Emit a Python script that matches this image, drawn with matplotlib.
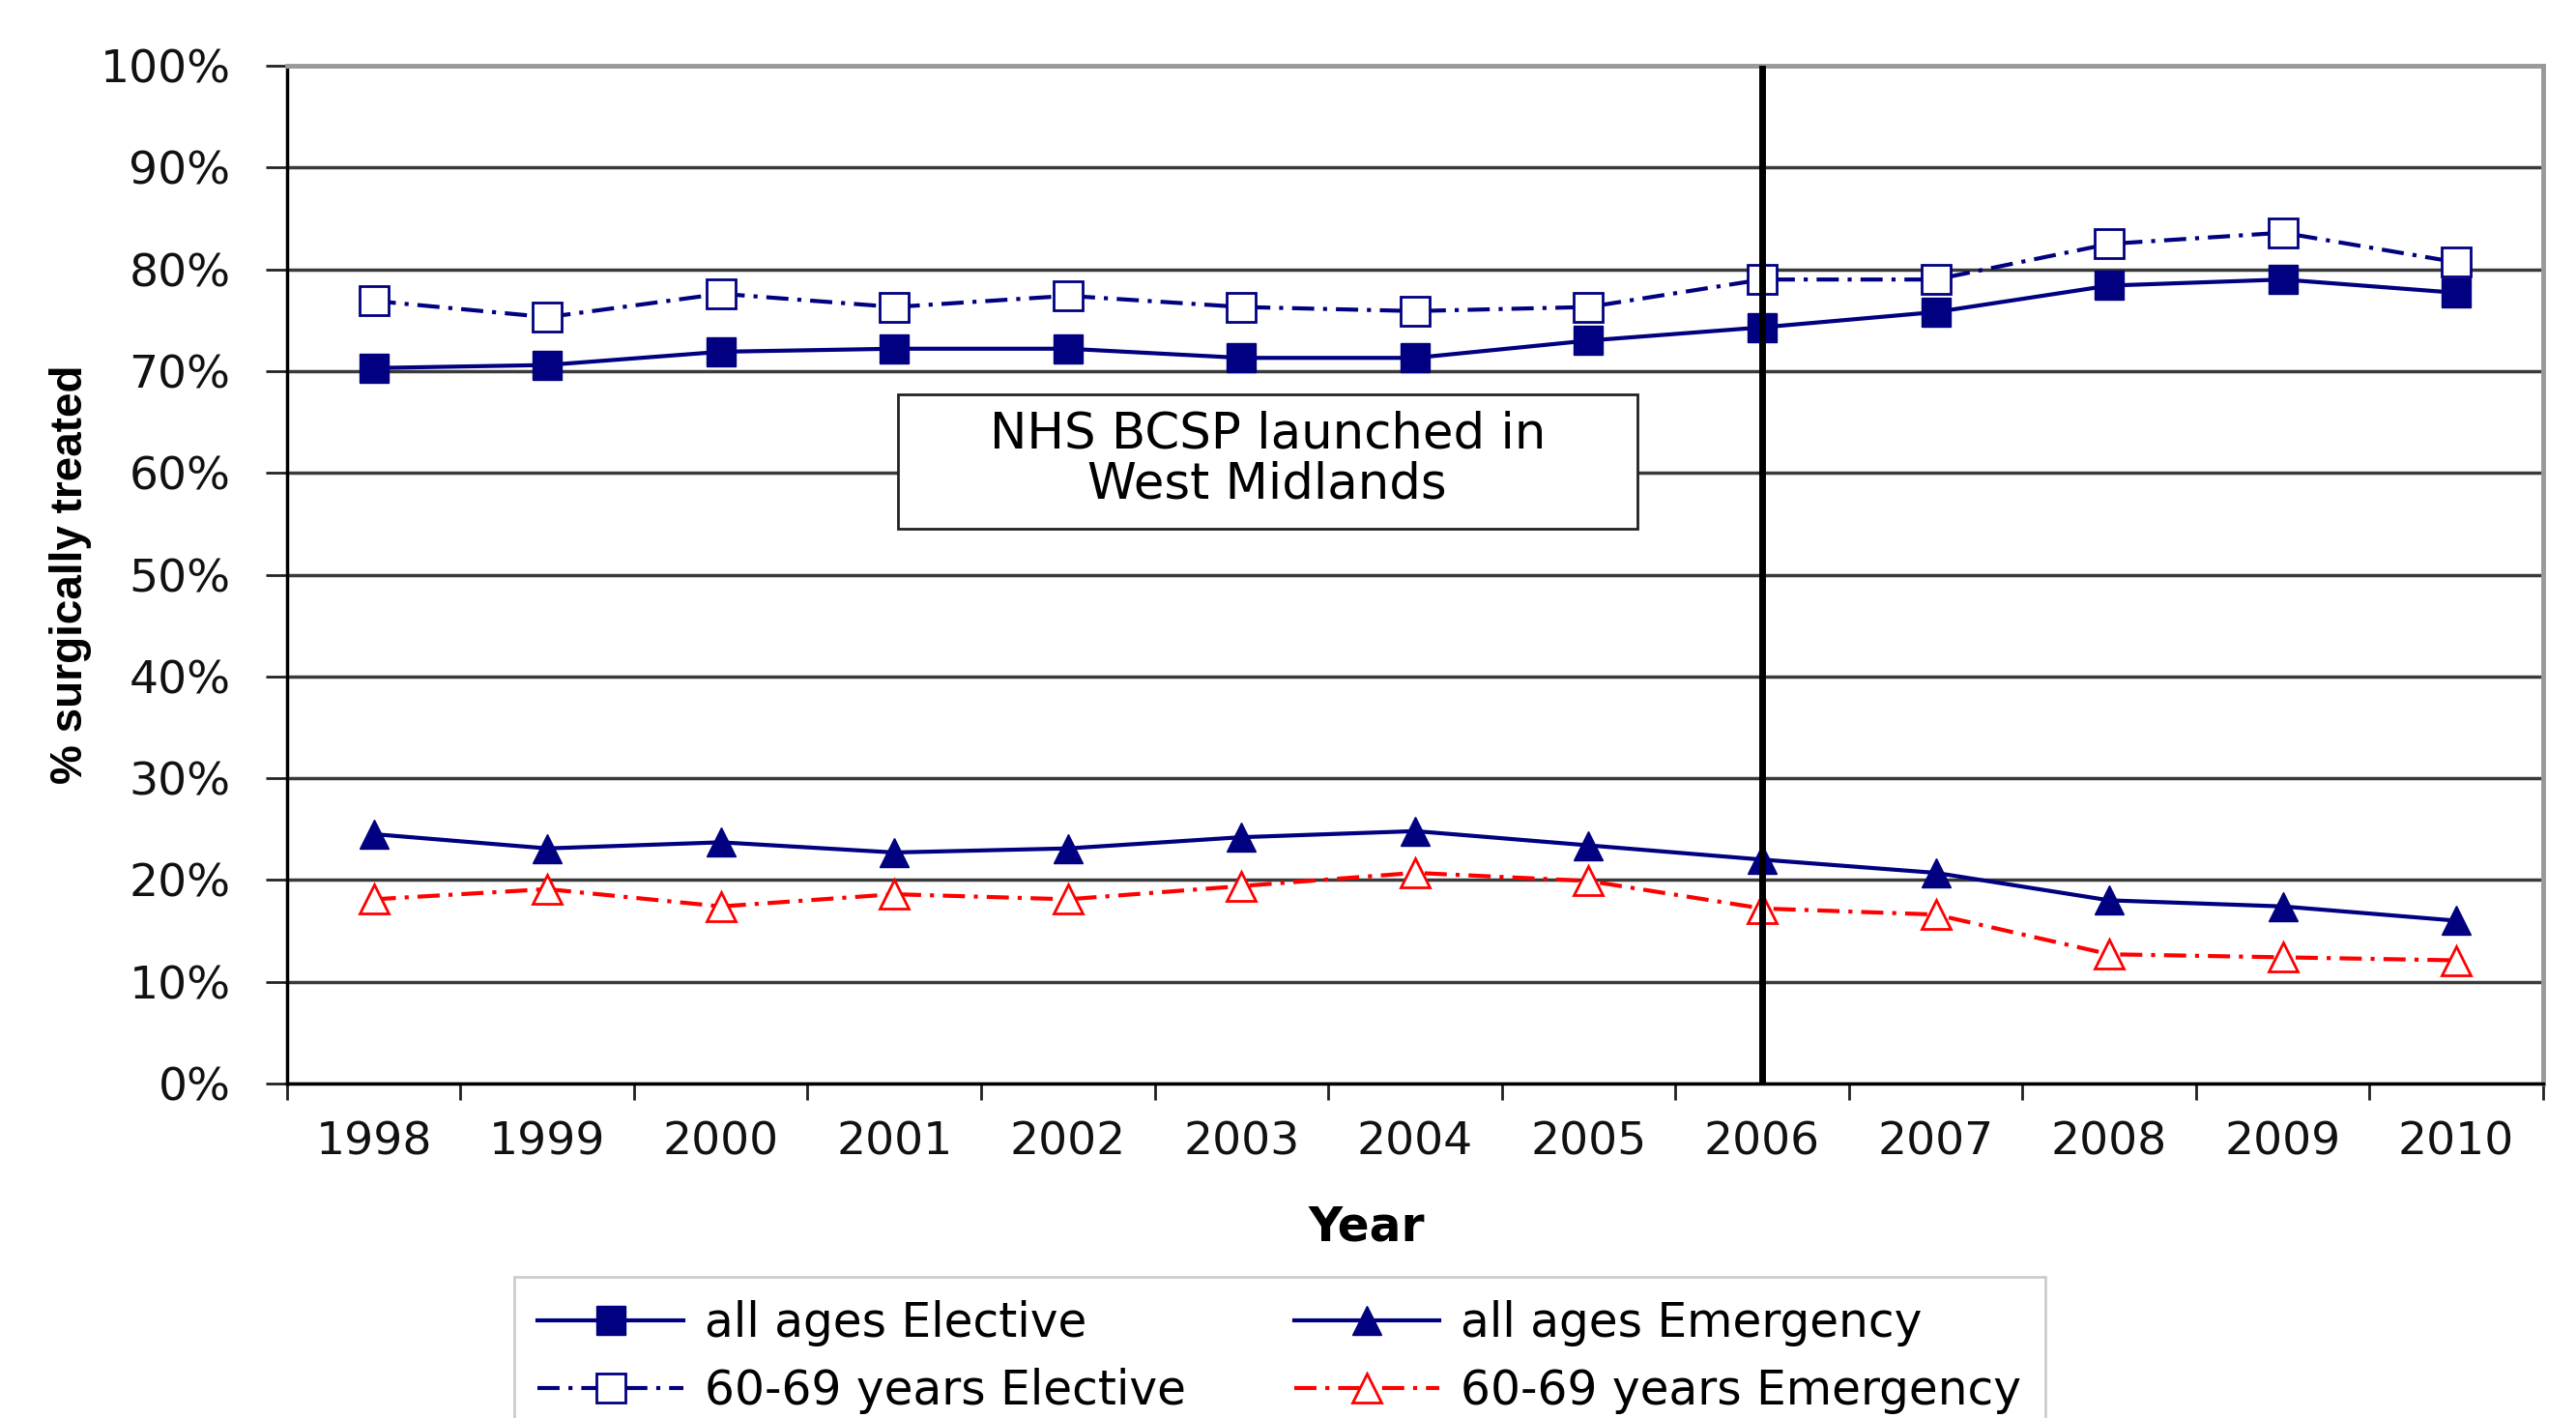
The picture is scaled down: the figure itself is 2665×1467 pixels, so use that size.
import matplotlib
matplotlib.use("Agg")
import matplotlib.pyplot as plt
from matplotlib.patches import Rectangle

# Data (% surgically treated)
years = list(range(1998, 2011))
all_elective = [70.3, 70.6, 71.9, 72.2, 72.2, 71.3, 71.3, 73.0, 74.3, 75.8, 78.4, 79.0, 77.7]
all_emergency = [24.5, 23.1, 23.7, 22.7, 23.1, 24.2, 24.8, 23.4, 22.0, 20.7, 18.0, 17.4, 16.0]
elective_6069 = [76.9, 75.3, 77.6, 76.3, 77.4, 76.3, 75.9, 76.3, 79.0, 79.0, 82.5, 83.6, 80.7]
emergency_6069 = [18.1, 19.1, 17.4, 18.6, 18.1, 19.4, 20.7, 19.9, 17.2, 16.6, 12.7, 12.4, 12.1]
y_ticks = list(range(0, 101, 10))
launch_year = 2006
note_text = "NHS BCSP launched in\nWest Midlands"

navy = "#000080"
red = "#ff0000"
dashdot = (0, (5.5, 2.2, 1.0, 2.2))

plt.rcParams['font.family'] = ['DejaVu Sans']

fig = plt.figure(figsize=(26.65, 14.67), dpi=100)
ax = fig.add_axes([0.1114, 0.2359, 0.8758, 0.7177])

# the four series
l1, = ax.plot(years, all_elective, color=navy, lw=3, marker='s', ms=21,
              mfc=navy, mec=navy, label="all ages Elective", zorder=3)
l2, = ax.plot(years, all_emergency, color=navy, lw=3, marker='^', ms=22,
              mfc=navy, mec=navy, label="all ages Emergency", zorder=3)
l3, = ax.plot(years, elective_6069, color=navy, lw=3, ls=dashdot, marker='s', ms=21,
              mfc='white', mec=navy, mew=2, label="60-69 years Elective", zorder=3)
l4, = ax.plot(years, emergency_6069, color=red, lw=3, ls=dashdot, marker='^', ms=21,
              mfc='white', mec=red, mew=2, label="60-69 years Emergency", zorder=3)

# screening programme launch
ax.axvline(launch_year, color='black', lw=5, zorder=5)

# note box
ax.add_patch(Rectangle((2001.02, 54.5), 4.26, 13.2, facecolor='white',
                       edgecolor='#222222', lw=2, zorder=2))
ax.text(2003.15, 61.3, note_text, ha='center', va='center', fontsize=37,
        linespacing=1.05, color='black', zorder=3)

# axes
ax.set_xlim(1997.5, 2010.5)
ax.set_ylim(0, 100)
ax.set_yticks(y_ticks)
ax.set_yticklabels([f"{v}%" for v in y_ticks])
ax.set_xticks(years)
ax.set_xticklabels([str(y) for y in years])
ax.set_xticks([y - 0.5 for y in years] + [years[-1] + 0.5], minor=True)
ax.tick_params(axis='x', which='major', length=0, pad=28, labelsize=34, labelcolor='#111111')
ax.tick_params(axis='x', which='minor', length=12, width=2, color='#222222')
ax.tick_params(axis='y', which='major', length=16, width=2, pad=26, labelsize=34,
               labelcolor='#111111', color='#222222')

ax.grid(axis='y', color='#3a3a3a', lw=2.5)
ax.set_axisbelow(True)

for side in ['left', 'bottom']:
    ax.spines[side].set_color('black')
    ax.spines[side].set_linewidth(2.5)
for side in ['top', 'right']:
    ax.spines[side].set_color('#999999')
    ax.spines[side].set_linewidth(3.5)

ax.set_xlabel("Year", fontsize=35, fontweight='bold', va='top')
ax.xaxis.set_label_coords(0.4786, -0.1187)
ax.set_ylabel("% surgically treated", fontsize=33, fontweight='bold',
              family=['Liberation Sans'])
ax.yaxis.set_label_coords(-0.0865, 0.5)

# legend, bottom edge runs off the figure like the original
leg = fig.legend(handles=[l1, l3, l2, l4], ncol=2, loc='upper left',
                 bbox_to_anchor=(532 / 2665, 1 - 1321 / 1467), borderaxespad=0,
                 fontsize=35, handlelength=3.1, handletextpad=0.45,
                 columnspacing=2.3, labelspacing=0.45, borderpad=0.5,
                 fancybox=False, frameon=True)
leg.get_frame().set_edgecolor('#c0c0c0')
leg.get_frame().set_linewidth(2)

fig.savefig("out.png", dpi=100)
